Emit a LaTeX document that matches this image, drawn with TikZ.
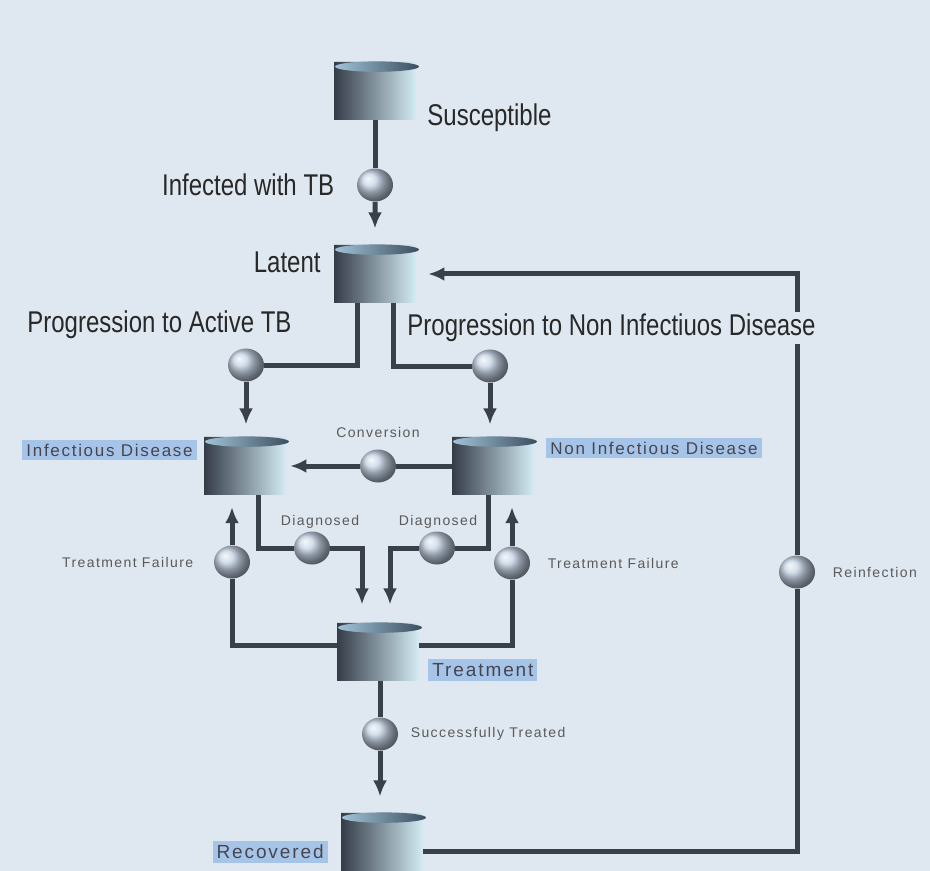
\documentclass[tikz,border=0pt]{standalone}
\usepackage{fontspec}
\setmainfont{Liberation Sans}
\newfontfamily\bigfont[FakeStretch=0.8]{Liberation Sans}
\newfontfamily\spacedfont[LetterSpace=10]{Liberation Sans}
\usetikzlibrary{positioning,shapes.geometric,arrows.meta}
\definecolor{bgcol}{RGB}{223,231,240}
\definecolor{pipecol}{RGB}{58,64,74}
\definecolor{stockdark}{RGB}{52,60,72}
\definecolor{stockmid}{RGB}{92,150,185}
\definecolor{stocklight}{RGB}{212,236,244}
\definecolor{stocktop}{RGB}{160,195,215}
\definecolor{valvecol}{RGB}{196,210,228}
\definecolor{tagfill}{RGB}{166,196,232}
\definecolor{tagtxt}{RGB}{70,70,80}
\definecolor{notetxt}{RGB}{90,90,90}
\definecolor{bigtxt}{RGB}{40,40,40}

\begin{document}
\begin{tikzpicture}[
        x=0.5pt, y=-0.5pt,
        stock/.style = {cylinder, shape border rotate=90, aspect=0.35, minimum width=41pt,
                        minimum height=29pt, inner sep=0pt,
                        left color=stockdark, middle color=stockmid, right color=stocklight},
        valve/.style = {ellipse, minimum width=18pt, minimum height=16.5pt, inner sep=0pt,
                        ball color=valvecol},
        pipe/.style  = {draw=pipecol, line width=2.5pt},
        flow/.style  = {pipe, -{Latex[length=8pt,width=7pt]}, shorten >=6pt},
        big/.style   = {font=\bigfont\fontsize{15}{18}\selectfont, text=bigtxt, inner sep=1pt},
        note/.style  = {font=\spacedfont\fontsize{7}{8}\selectfont, text=notetxt, inner sep=1pt},
        tag/.style   = {fill=tagfill, font=\spacedfont\fontsize{8.5}{10}\selectfont,
                        text=tagtxt, inner sep=2pt}
    ]
        \fill[bgcol] (0,0) rectangle (930,871);
        \useasboundingbox (0,0) rectangle (930,871);

        % stocks
        \node[stock] (sus) at (375,91)  {};
        \node[stock] (lat) at (375,274) {};
        \node[stock] (inf) at (245,466) {};
        \node[stock] (non) at (493,466) {};
        \node[stock] (trt) at (378,652) {};
        \node[stock] (rec) at (382,842) {};
        % lids
        \foreach \s in {sus,lat,inf,non,trt,rec}
            \shade[left color=stocktop, right color=stockdark!80!stockmid]
                ([xshift=1pt, yshift=-2.6pt]\s.north) ellipse [x radius=21pt, y radius=2.6pt];

        % valves
        \node[valve] (v_inf)  at (375,185) {};
        \node[valve] (v_act)  at (246,365) {};
        \node[valve] (v_nid)  at (490,366) {};
        \node[valve] (v_conv) at (378,466) {};
        \node[valve] (v_dl)   at (312,548) {};
        \node[valve] (v_dr)   at (437,548) {};
        \node[valve] (v_tfl)  at (232,562) {};
        \node[valve] (v_tfr)  at (512,563) {};
        \node[valve] (v_suc)  at (380,734) {};
        \node[valve] (v_re)   at (797,572) {};

        % flows
        \draw[pipe] (sus) -- (v_inf);
        \draw[flow, shorten >=8pt] (v_inf) -- (lat);
        \draw[pipe] ([xshift=-9pt]lat.south) |- (v_act);
        \draw[flow] (v_act) -- (v_act |- inf.north);
        \draw[pipe] ([xshift=9pt]lat.south) |- (v_nid);
        \draw[flow] (v_nid) -- (v_nid |- non.north);
        \draw[pipe] (non) -- (v_conv);
        \draw[flow, shorten >=2pt] (v_conv) -- (inf);
        \draw[pipe] ([xshift=6.5pt]inf.south) |- (v_dl);
        \draw[flow, shorten >=9pt] (v_dl) -| ([xshift=-8pt]trt.north);
        \draw[pipe] ([xshift=-2.5pt]non.south) |- (v_dr);
        \draw[flow, shorten >=9pt] (v_dr) -| ([xshift=6pt]trt.north);
        \draw[pipe] ([yshift=3.5pt]trt.west) -| (v_tfl);
        \draw[flow] (v_tfl) -- (v_tfl |- inf.south);
        \draw[pipe] ([yshift=3.5pt]trt.east) -| (v_tfr);
        \draw[flow] (v_tfr) -- (v_tfr |- non.south);
        \draw[pipe] (v_suc |- trt.south) -- (v_suc);
        \draw[flow, shorten >=8pt] (v_suc) -- (v_suc |- rec.north);
        \draw[pipe] ([yshift=-4.5pt]rec.east) -| (v_re);
        \draw[flow] (v_re) |- (lat.east);

        % labels
        \node[big, anchor=west] (l_sus) at (425,118) {Susceptible};
        \node[big, left=10pt of v_inf] (l_inf) {Infected with TB};
        \node[big, anchor=east] (l_lat) at (323,262) {Latent};
        \node[big, anchor=west] (l_act) at (25,325) {Progression to Active TB};
        \node[big, anchor=west, fill=bgcol] (l_nid) at (405,328) {Progression to Non Infectiuos Disease};
        \node[tag, anchor=east] (t_inf) at (197,450) {Infectious Disease};
        \node[tag, anchor=west] (t_non) at (546,448) {Non Infectious Disease};
        \node[note] (l_conv) at (378,432) {Conversion};
        \node[note] (l_dl) at (320,522) {Diagnosed};
        \node[note] (l_dr) at (438,522) {Diagnosed};
        \node[note, left=9pt of v_tfl] (l_tfl) {Treatment Failure};
        \node[note, right=7.5pt of v_tfr] (l_tfr) {Treatment Failure};
        \node[note, right=7.5pt of v_re] (l_re) {Reinfection};
        \node[note, right=5pt of v_suc] (l_suc) {Successfully Treated};
        \node[tag, font=\spacedfont\fontsize{9.5}{11}\selectfont, anchor=west] (t_trt) at (428,670) {Treatment};
        \node[tag, font=\spacedfont\fontsize{9.5}{11}\selectfont, anchor=east] (t_rec) at (328,852) {Recovered};
    \end{tikzpicture}
\end{document}
